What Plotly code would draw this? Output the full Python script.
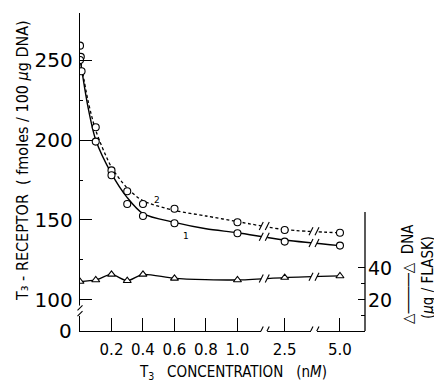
import numpy as np
import plotly.graph_objects as go

# ---------------- data ----------------
# curve 1 (solid) : T3-receptor, fmoles / 100 ug DNA
c1_conc = [0, 0.01, 0.1, 0.2, 0.3, 0.4, 0.6, 1.0, 2.5, 5.0]
c1_vals = [250, 243, 199, 178, 160, 152.5, 148, 141.7, 136.5, 134]
# curve 2 (dashed)
c2_conc = [0, 0.005, 0.1, 0.2, 0.3, 0.4, 0.6, 1.0, 2.5, 5.0]
c2_vals = [259, 252, 208, 181, 168, 160, 157, 148.6, 143.7, 142]
# smooth drawn curves
fit_conc = [0, 0.05, 0.1, 0.2, 0.3, 0.4, 0.6, 0.8, 1.0, 2.5, 5.0]
fit1_vals = [251, 221, 200, 179, 164, 154, 148.5, 144.5, 142, 137.5, 134]
fit2_vals = [252, 225, 206, 183, 170, 162, 156, 152.5, 149, 144, 142]
# DNA (ug / flask), right axis
dna_conc = [0, 0.1, 0.2, 0.3, 0.4, 0.6, 1.0, 2.5, 5.0]
dna_vals = [31.5, 32.5, 36, 32, 36, 33.5, 32.5, 34, 35]

x_tick_vals = [0.2, 0.4, 0.6, 0.8, 1.0, 2.5, 5.0]
x_tick_text = ["0.2", "0.4", "0.6", "0.8", "1.0", "2.5", "5.0"]
y_tick_vals = [100, 150, 200, 250]
y2_tick_vals = [20, 40]
y2_minor_vals = [10, 30]

# ---------------- broken x scale ----------------
knots_c = [0, 1.0, 2.5, 5.0]
knots_u = [0, 1.0, 1.30, 1.651]
def xpos(c):
    return list(np.interp(c, knots_c, knots_u))

X_MAX = 1.81
Y_MIN, Y_MAX = 80.6, 279.4
Y2_OFF = 80.0            # right axis value r sits at left value r + 80
PLOT_W, PLOT_H = 285, 318
PX_U = PLOT_W / X_MAX
PX_V = PLOT_H / (Y_MAX - Y_MIN)

fig = go.Figure()

fig.add_trace(go.Scatter(x=xpos(fit_conc), y=fit2_vals, mode="lines",
                         line=dict(color="black", width=1.3, dash="3px,2.5px", shape="spline", smoothing=0.8),
                         hoverinfo="skip", showlegend=False))
fig.add_trace(go.Scatter(x=xpos(fit_conc), y=fit1_vals, mode="lines",
                         line=dict(color="black", width=1.4, shape="spline", smoothing=0.8),
                         hoverinfo="skip", showlegend=False))
fig.add_trace(go.Scatter(x=xpos(dna_conc), y=dna_vals, yaxis="y2", mode="lines",
                         line=dict(color="black", width=1.3, shape="spline", smoothing=0.7),
                         hoverinfo="skip", showlegend=False))

mk_c = dict(symbol="circle", size=7, color="white", line=dict(color="black", width=1.1))
fig.add_trace(go.Scatter(x=xpos(c2_conc), y=c2_vals, mode="markers", marker=mk_c, showlegend=False))
fig.add_trace(go.Scatter(x=xpos(c1_conc), y=c1_vals, mode="markers", marker=mk_c, showlegend=False))
fig.add_trace(go.Scatter(x=xpos(dna_conc), y=dna_vals, yaxis="y2", mode="markers",
                         marker=dict(symbol="triangle-up", size=7, color="white",
                                     line=dict(color="black", width=1.1)), showlegend=False))

# ---------------- axis breaks ----------------
shapes = []
def slash(xc, yc, yref="y"):
    dx, dy = 2.0 / PX_U, 4.0 / PX_V
    return dict(type="line", xref="x", yref=yref, x0=xc - dx, x1=xc + dx, y0=yc - dy, y1=yc + dy,
                line=dict(color="black", width=1.1), layer="above")

fit_u = xpos(fit_conc)
dna_u = xpos(dna_conc)
for ub in [1.17, 1.486]:
    w = 3.0 / PX_U
    shapes.append(dict(type="rect", xref="x", yref="paper", x0=ub - w, x1=ub + w, y0=-0.01, y1=1,
                       fillcolor="white", line=dict(width=0), layer="above"))
    ys = [(float(np.interp(ub, fit_u, fit1_vals)), "y"),
          (float(np.interp(ub, fit_u, fit2_vals)), "y"),
          (float(np.interp(ub, dna_u, dna_vals)), "y2"),
          (Y_MIN + 0.5 / PX_V, "y")]
    for yv, yr in ys:
        for s in (-1, 1):
            shapes.append(slash(ub + s * w, yv, yr))

# left-axis break
shapes.append(dict(type="rect", xref="paper", yref="y", x0=-3 / PLOT_W, x1=3 / PLOT_W, y0=90, y1=96.5,
                   fillcolor="white", line=dict(width=0), layer="above"))
for yc in (91.5, 95.0):
    shapes.append(dict(type="line", xref="paper", yref="y", x0=-2.5 / PLOT_W, x1=2.5 / PLOT_W,
                       y0=yc - 2.5 / PX_V, y1=yc + 2.5 / PX_V, line=dict(color="black", width=1.1),
                       layer="above"))
# right axis line (short)
shapes.append(dict(type="line", xref="paper", yref="y2", x0=1, x1=1, y0=Y_MIN - Y2_OFF, y1=75,
                   line=dict(color="black", width=1.3)))

FONT = "DejaVu Sans"
COND = "Liberation Sans Narrow, DejaVu Sans Condensed, DejaVu Sans"
NB = "\u00a0"

annotations = [
    dict(text="0", xref="paper", yref="y", x=0, y=Y_MIN, xanchor="right", yanchor="middle",
         xshift=-6, showarrow=False, font=dict(family=FONT, size=20, color="black")),
    dict(text="T₃ - RECEPTOR" + NB * 2 + "( fmoles / 100 <i>μ</i>g DNA)", xref="paper", yref="paper",
         x=0, y=(331 - 161) / PLOT_H, xshift=-58, textangle=-90, showarrow=False,
         xanchor="center", yanchor="middle", font=dict(family=COND, size=16, color="black")),
    dict(text="T<sub>3</sub>" + NB * 3 + "CONCENTRATION" + NB * 3 + "(n<i>M</i>)", xref="paper", yref="paper",
         x=(233 - 80) / PLOT_W, y=0, yshift=-41, showarrow=False, xanchor="center", yanchor="middle",
         font=dict(family=COND, size=15, color="black")),
    dict(text="△―――△" + NB * 2 + "DNA", xref="paper", yref="paper", x=1, y=(331 - 274) / PLOT_H, xshift=43,
         textangle=-90, showarrow=False, xanchor="center", yanchor="middle",
         font=dict(family=COND, size=15, color="black")),
    dict(text="(<i>μ</i>g / FLASK)", xref="paper", yref="paper", x=1, y=(331 - 278) / PLOT_H, xshift=63,
         textangle=-90, showarrow=False, xanchor="center", yanchor="middle",
         font=dict(family=COND, size=15, color="black")),
    dict(text="2", x=0.489, y=162.5, showarrow=False, font=dict(family=FONT, size=9, color="black")),
    dict(text="1", x=0.673, y=140, showarrow=False, font=dict(family=FONT, size=9, color="black")),
]
# right-axis tick labels
for v in y2_tick_vals:
    annotations.append(dict(text=str(v), xref="paper", yref="y2", x=1, y=v, xanchor="left",
                            yanchor="middle", xshift=1, showarrow=False,
                            font=dict(family=FONT, size=19, color="black")))

fig.update_layout(
    width=442, height=391,
    # page body has an 8px margin: shift the figure so that the plot lands where the reference has it
    margin=dict(l=72, r=85, t=5, b=68),
    paper_bgcolor="white", plot_bgcolor="white",
    showlegend=False,
    xaxis=dict(range=[0, X_MAX], tickvals=xpos(x_tick_vals), ticktext=x_tick_text,
               ticks="inside", ticklen=13, tickwidth=1.2, tickcolor="black", ticklabelstandoff=5,
               showline=True, linecolor="black", linewidth=1.4, showgrid=False, zeroline=False,
               tickfont=dict(family=FONT, size=15, color="black")),
    yaxis=dict(range=[Y_MIN, Y_MAX], tickvals=y_tick_vals, ticks="inside", ticklen=12, tickwidth=1.2,
               tickcolor="black", showline=True, linecolor="black", linewidth=1.4,
               showgrid=False, zeroline=False, ticklabelstandoff=2,
               minor=dict(tickvals=[125, 175, 225], ticks="inside", ticklen=3, tickcolor="black"),
               tickfont=dict(family=FONT, size=20, color="black")),
    yaxis2=dict(overlaying="y", side="right", range=[Y_MIN - Y2_OFF, Y_MAX - Y2_OFF],
                tickvals=y2_tick_vals, ticks="inside", ticklen=7, tickwidth=1.2, tickcolor="black",
                showline=False, showgrid=False, zeroline=False, showticklabels=False,
                minor=dict(tickvals=y2_minor_vals, ticks="inside", ticklen=4, tickcolor="black")),
    shapes=shapes,
    annotations=annotations,
)

fig.write_html("out.html")
